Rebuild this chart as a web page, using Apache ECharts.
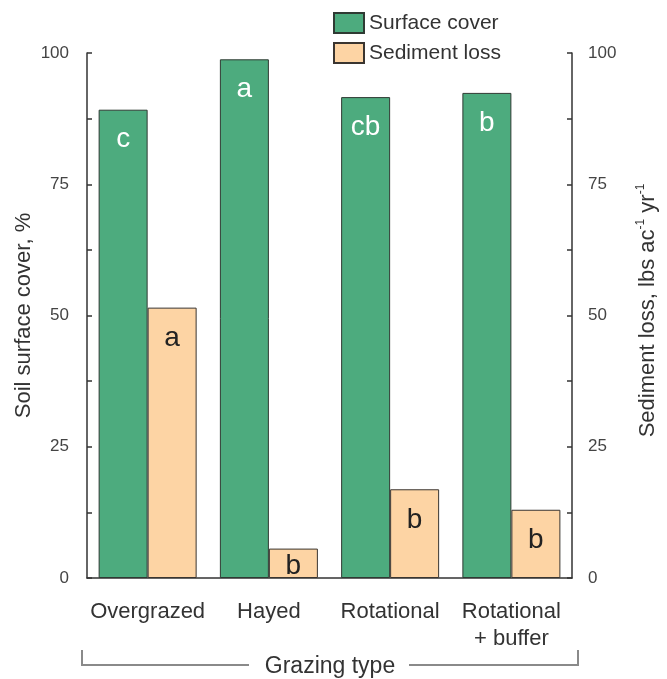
<!DOCTYPE html>
<html>
<head>
<meta charset="utf-8">
<script src="https://cdn.jsdelivr.net/npm/echarts@6/dist/echarts.min.js"></script>
<style>
html,body{margin:0;padding:0;background:#fff;}
#chart{width:667px;height:679px;}
</style>
</head>
<body>
<div id="chart"></div>
<script>
var categories = ['Overgrazed', 'Hayed', 'Rotational', 'Rotational\n+ buffer'];
var surfaceCover = [89.2, 98.8, 91.6, 92.4];
var sedimentLoss = [51.5, 5.6, 16.9, 13.0];
var coverLetters = ['c', 'a', 'cb', 'b'];
var sedimentLetters = ['a', 'b', 'b', 'b'];
var yTicks = [0, 25, 50, 75, 100];

var FONT = '"Liberation Sans", Arial, sans-serif';
var chart = echarts.init(document.getElementById('chart'), null, {renderer: 'canvas'});

function yAxisCfg(pos, name, gap) {
  return {
    type: 'value', position: pos, min: 0, max: 100, interval: 25,
    name: name, nameLocation: 'middle', nameGap: gap, nameRotate: 90, nameMoveOverlap: false,
    nameTextStyle: {
      fontFamily: FONT, fontSize: 22, color: '#333',
      rich: {
        b: {fontFamily: FONT, fontSize: 22, color: '#333', lineHeight: 26},
        sup: {fontFamily: FONT, fontSize: 12, color: '#333', lineHeight: 26, verticalAlign: 'top', padding: [0, 0, 10, 0]}
      }
    },
    axisLine: {show: true, lineStyle: {color: '#333', width: 1.5}},
    axisTick: {show: true, inside: true, length: 5, lineStyle: {color: '#333', width: 1.5}},
    minorTick: {show: true, splitNumber: 2, length: 5, lineStyle: {color: '#333', width: 1.5}},
    splitLine: {show: false},
    axisLabel: {fontFamily: FONT, fontSize: 17, color: '#444', margin: pos === 'left' ? 18 : 16,
      formatter: function (v) { return yTicks.indexOf(v) >= 0 ? String(v) : ''; }}
  };
}

var left = yAxisCfg('left', 'Soil surface cover, %', 52);
var right = yAxisCfg('right', '{b|Sediment loss, lbs ac}{sup|-1}{b| yr}{sup|-1}', 63);
right.nameTextStyle.padding = [0, 0, 0, 10];

var sedimentData = sedimentLoss.map(function (v, i) {
  return i === 1 ? {value: v, label: {distance: 4}} : v;
});

chart.setOption({
  animation: false,
  backgroundColor: '#fff',
  textStyle: {fontFamily: FONT},
  grid: {left: 87, right: 95, top: 53, bottom: 101},
  legend: {
    orient: 'vertical', left: 333, top: 12, padding: 0, itemWidth: 30, itemHeight: 20, itemGap: 8,
    icon: 'rect',
    textStyle: {fontFamily: FONT, fontSize: 21, color: '#333'},
    data: ['Surface cover', 'Sediment loss']
  },
  xAxis: {
    type: 'category', data: categories,
    axisLine: {show: true, lineStyle: {color: '#333', width: 1.5}},
    axisTick: {show: false},
    axisLabel: {fontFamily: FONT, fontSize: 22, color: '#333', margin: 20, lineHeight: 27, interval: 0}
  },
  yAxis: [left, right],
  series: [
    {
      name: 'Surface cover', type: 'bar', yAxisIndex: 0, barWidth: 49, barGap: '0%',
      data: surfaceCover,
      itemStyle: {color: '#4dab7e', borderColor: '#2f3a33', borderWidth: 1},
      label: {show: true, position: 'insideTop', distance: 16, fontFamily: FONT, fontSize: 28, color: '#fff',
        formatter: function (p) { return coverLetters[p.dataIndex]; }}
    },
    {
      name: 'Sediment loss', type: 'bar', yAxisIndex: 1, barWidth: 49, barGap: '0%',
      data: sedimentData,
      itemStyle: {color: '#fdd4a4', borderColor: '#3a3530', borderWidth: 1},
      label: {show: true, position: 'insideTop', distance: 17, fontFamily: FONT, fontSize: 28, color: '#222',
        formatter: function (p) { return sedimentLetters[p.dataIndex]; }}
    }
  ],
  graphic: [
    {type: 'polyline', shape: {points: [[82, 650], [82, 665], [249, 665]]}, style: {stroke: '#8a8a8a', lineWidth: 2, fill: null}},
    {type: 'polyline', shape: {points: [[409, 665], [578, 665], [578, 650]]}, style: {stroke: '#8a8a8a', lineWidth: 2, fill: null}},
    {type: 'text', style: {text: 'Grazing type', x: 330, y: 667, fontFamily: FONT, fontSize: 23, fill: '#333', textAlign: 'center', textVerticalAlign: 'middle'}}
  ]
});
</script>
</body>
</html>
